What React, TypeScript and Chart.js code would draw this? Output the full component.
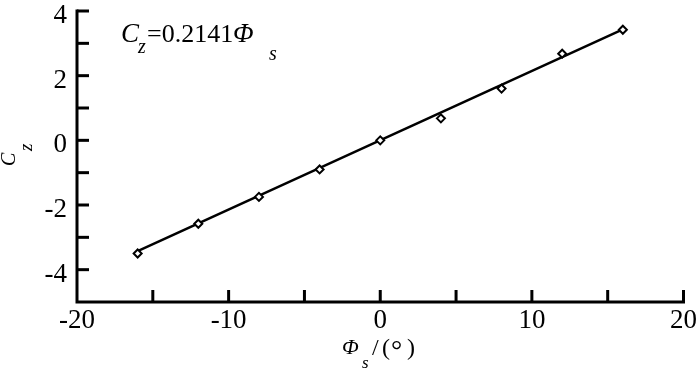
import React, { useEffect, useRef } from "react";
import { Chart, registerables } from "chart.js";

Chart.register(...registerables);

// Data
const phiS = [-16, -12, -8, -4, 0, 4, 8, 12, 16];
const czMeasured = [-3.5, -2.58, -1.75, -0.9, 0, 0.68, 1.6, 2.68, 3.42];
const fitX = [-16, 16];
const fitY = [-3.43, 3.43];
const xMajorTicks = [-20, -10, 0, 10, 20];
const yMajorTicks = [-4, -2, 0, 2, 4];
const xMinorStep = 5;
const yMinorStep = 1;

const SERIF = '"Liberation Serif", "Times New Roman", serif';
const TICK_FONT = 27;

type Run = { t: string; size: number; italic?: boolean; dx: number; dy: number };

function drawRuns(ctx: CanvasRenderingContext2D, x: number, y: number, runs: Run[]) {
  for (const r of runs) {
    ctx.font = `${r.italic ? "italic " : ""}${r.size}px ${SERIF}`;
    ctx.fillText(r.t, x + r.dx, y + r.dy);
  }
}

const decorPlugin = {
  id: "decor",
  afterDraw(chart: any) {
    const { ctx, chartArea, scales } = chart;
    const { left, right, top, bottom } = chartArea;
    const xs = scales.x;
    const ys = scales.y;
    ctx.save();
    ctx.strokeStyle = "#000";
    ctx.fillStyle = "#000";
    ctx.lineWidth = 3;
    ctx.lineCap = "butt";
    // axes
    ctx.beginPath();
    ctx.moveTo(left, top - 1.5);
    ctx.lineTo(left, bottom);
    ctx.lineTo(right + 1.5, bottom);
    ctx.stroke();
    const tl = 12;
    // y ticks (inward)
    for (let v = ys.min + yMinorStep; v <= ys.max + 1e-9; v += yMinorStep) {
      const py = ys.getPixelForValue(v);
      ctx.beginPath();
      ctx.moveTo(left, py);
      ctx.lineTo(left + tl, py);
      ctx.stroke();
    }
    // x ticks (inward)
    for (let v = xs.min + xMinorStep; v <= xs.max + 1e-9; v += xMinorStep) {
      const px = xs.getPixelForValue(v);
      ctx.beginPath();
      ctx.moveTo(px, bottom);
      ctx.lineTo(px, bottom - tl);
      ctx.stroke();
    }
    // y tick labels
    ctx.font = `${TICK_FONT}px ${SERIF}`;
    ctx.textAlign = "right";
    ctx.textBaseline = "alphabetic";
    for (const v of yMajorTicks) {
      const py = ys.getPixelForValue(v);
      ctx.fillText(String(v), left - 10, py + 12);
    }
    ctx.textAlign = "left";
    // annotation
    drawRuns(ctx, 121, 42, [
      { t: "C", size: 27, italic: true, dx: 0, dy: 0 },
      { t: "z", size: 20, italic: true, dx: 17, dy: 11 },
      { t: "=0.2141", size: 26, dx: 26, dy: 0 },
      { t: "Φ", size: 27, italic: true, dx: 112, dy: 0 },
      { t: "s", size: 20, italic: true, dx: 148, dy: 18 },
    ]);
    // x title
    drawRuns(ctx, 342, 354, [
      { t: "Φ", size: 22, italic: true, dx: 0, dy: 0 },
      { t: "s", size: 17, italic: true, dx: 20, dy: 14 },
      { t: "/", size: 24, dx: 30, dy: 1 },
      { t: "(", size: 24, dx: 40, dy: 1 },
      { t: "°", size: 28, dx: 49, dy: 5 },
      { t: ")", size: 24, dx: 65, dy: 1 },
    ]);
    // y title (rotated)
    ctx.translate(15, 166);
    ctx.rotate(-Math.PI / 2);
    drawRuns(ctx, 0, 0, [
      { t: "C", size: 20, italic: true, dx: 0, dy: 0 },
      { t: "z", size: 19, italic: true, dx: 15, dy: 17 },
    ]);
    ctx.restore();
  },
};

export default function App() {
  const ref = useRef<HTMLCanvasElement | null>(null);
  useEffect(() => {
    if (!ref.current) return;
    const chart = new Chart(ref.current, {
      type: "scatter",
      data: {
        datasets: [
          {
            type: "line",
            data: fitX.map((x, i) => ({ x, y: fitY[i] })),
            borderColor: "#000",
            borderWidth: 2.5,
            pointRadius: 0,
            showLine: true,
            fill: false,
            order: 2,
          } as any,
          {
            type: "scatter",
            data: phiS.map((x, i) => ({ x, y: czMeasured[i] })),
            pointStyle: "rectRot",
            pointRadius: 4,
            borderColor: "#000",
            backgroundColor: "#fff",
            borderWidth: 2,
            order: 1,
          },
        ],
      },
      options: {
        animation: false,
        responsive: false,
        events: [],
        layout: { padding: { top: 11, right: 15, left: 0, bottom: 0 } },
        plugins: { legend: { display: false }, tooltip: { enabled: false } },
        scales: {
          x: {
            type: "linear",
            min: -20,
            max: 20,
            border: { display: false },
            grid: { display: false, drawTicks: false },
            afterFit: (s: any) => {
              s.height = 69;
            },
            afterBuildTicks: (s: any) => {
              s.ticks = xMajorTicks.map((v) => ({ value: v }));
            },
            ticks: {
              autoSkip: false,
              maxRotation: 0,
              padding: 3,
              color: "#000",
              font: { family: SERIF, size: TICK_FONT },
            },
          },
          y: {
            type: "linear",
            min: -5,
            max: 4,
            border: { display: false },
            grid: { display: false, drawTicks: false },
            afterFit: (s: any) => {
              s.width = 77;
            },
            ticks: { display: false },
          },
        },
      },
      plugins: [decorPlugin],
    });
    return () => chart.destroy();
  }, []);
  return (
    <div style={{ position: "fixed", left: 0, top: 0, width: 700, height: 371, background: "#fff" }}>
      <canvas ref={ref} width={700} height={371} style={{ display: "block" }} />
    </div>
  );
}
